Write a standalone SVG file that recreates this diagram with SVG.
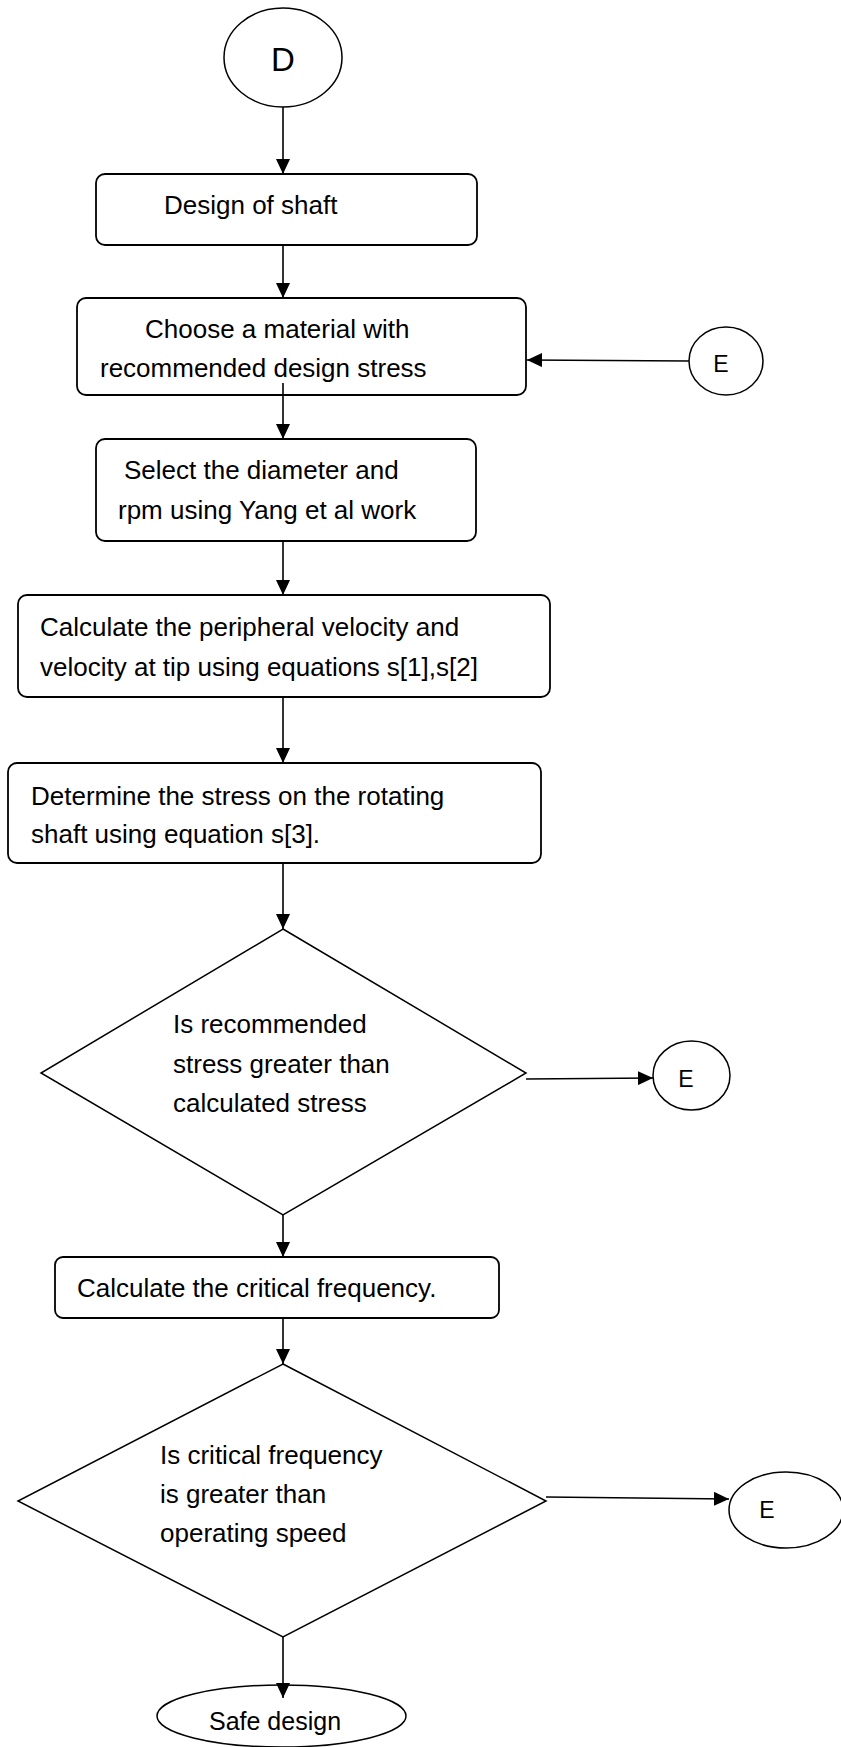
<svg xmlns="http://www.w3.org/2000/svg" width="841" height="1747" viewBox="0 0 841 1747">
  <defs>
    <marker id="arrow" markerUnits="userSpaceOnUse" markerWidth="15" markerHeight="14" refX="15" refY="7" orient="auto">
      <path d="M0,0 L15,7 L0,14 z" fill="#000"/>
    </marker>
    <style>
      .box { fill: #fff; stroke: #000; stroke-width: 1.8; }
      .shape { fill: #fff; stroke: #000; stroke-width: 1.5; }
      .edge { fill: none; stroke: #000; stroke-width: 1.6; marker-end: url(#arrow); }
      .t { font-family: "Liberation Sans", Arial, sans-serif; font-size: 26px; fill: #000; }
      .conn { font-family: "Liberation Sans", Arial, sans-serif; font-size: 23px; fill: #000; text-anchor: middle; }
    </style>
  </defs>
  <rect width="841" height="1747" fill="#fff"/>

  <!-- start connector D -->
  <g id="node-d">
    <ellipse class="shape" cx="283" cy="57.5" rx="59" ry="49.5"/>
    <text class="conn" x="283" y="70.5" style="font-size:33px">D</text>
  </g>

  <g id="node-design-shaft">
    <rect class="box" x="96" y="174" width="381" height="71" rx="9"/>
    <text class="t" x="164" y="214">Design of shaft</text>
  </g>

  <g id="node-choose-material">
    <rect class="box" x="77" y="298" width="449" height="97" rx="9"/>
    <text class="t" x="145" y="338">Choose a material with</text>
    <text class="t" x="100" y="377">recommended design stress</text>
  </g>

  <g id="node-e1">
    <ellipse class="shape" cx="726" cy="361" rx="37" ry="34"/>
    <text class="conn" x="721" y="372">E</text>
  </g>

  <g id="node-select-diameter">
    <rect class="box" x="96" y="439" width="380" height="102" rx="9"/>
    <text class="t" x="124" y="479">Select the diameter and</text>
    <text class="t" x="118" y="519">rpm using Yang et al work</text>
  </g>

  <g id="node-peripheral-velocity">
    <rect class="box" x="18" y="595" width="532" height="102" rx="9"/>
    <text class="t" x="40" y="636">Calculate the peripheral velocity and</text>
    <text class="t" x="40" y="676">velocity at tip using equations s[1],s[2]</text>
  </g>

  <g id="node-stress">
    <rect class="box" x="8" y="763" width="533" height="100" rx="9"/>
    <text class="t" x="31" y="805">Determine the stress on the rotating</text>
    <text class="t" x="31" y="843">shaft using equation s[3].</text>
  </g>

  <g id="node-stress-check">
    <polygon class="shape" points="283,929 526,1073 283,1215 41,1073"/>
    <text class="t" x="173" y="1033">Is recommended</text>
    <text class="t" x="173" y="1073">stress greater than</text>
    <text class="t" x="173" y="1112">calculated stress</text>
  </g>

  <g id="node-e2">
    <ellipse class="shape" cx="691.5" cy="1075.5" rx="38.5" ry="34.5"/>
    <text class="conn" x="686" y="1087">E</text>
  </g>

  <g id="node-critical-frequency">
    <rect class="box" x="55" y="1257" width="444" height="61" rx="8"/>
    <text class="t" x="77" y="1297">Calculate the critical frequency.</text>
  </g>

  <g id="node-frequency-check">
    <polygon class="shape" points="283,1364 546,1501 283,1637 18,1501"/>
    <text class="t" x="160" y="1464">Is critical frequency</text>
    <text class="t" x="160" y="1503">is greater than</text>
    <text class="t" x="160" y="1542">operating speed</text>
  </g>

  <g id="node-e3">
    <ellipse class="shape" cx="786" cy="1510" rx="57" ry="38"/>
    <text class="conn" x="767" y="1518">E</text>
  </g>

  <g id="node-safe-design">
    <ellipse class="shape" cx="281.5" cy="1716" rx="124.5" ry="31"/>
    <text class="t" x="209" y="1730" style="font-size:25px">Safe design</text>
  </g>

  <!-- connectors, drawn last so they sit on top of the shapes -->
  <g id="connectors">
    <line class="edge" x1="283" y1="107" x2="283" y2="174"/>
    <line class="edge" x1="283" y1="245" x2="283" y2="298"/>
    <line class="edge" x1="283" y1="383" x2="283" y2="439"/>
    <line class="edge" x1="283" y1="541" x2="283" y2="595"/>
    <line class="edge" x1="283" y1="697" x2="283" y2="763"/>
    <line class="edge" x1="283" y1="863" x2="283" y2="929"/>
    <line class="edge" x1="283" y1="1215" x2="283" y2="1257"/>
    <line class="edge" x1="283" y1="1318" x2="283" y2="1364"/>
    <line class="edge" x1="283" y1="1637" x2="283" y2="1698"/>
    <line class="edge" x1="689" y1="361" x2="527" y2="360"/>
    <line class="edge" x1="526" y1="1079" x2="653" y2="1078"/>
    <line class="edge" x1="546" y1="1497" x2="729" y2="1499"/>
  </g>
</svg>
